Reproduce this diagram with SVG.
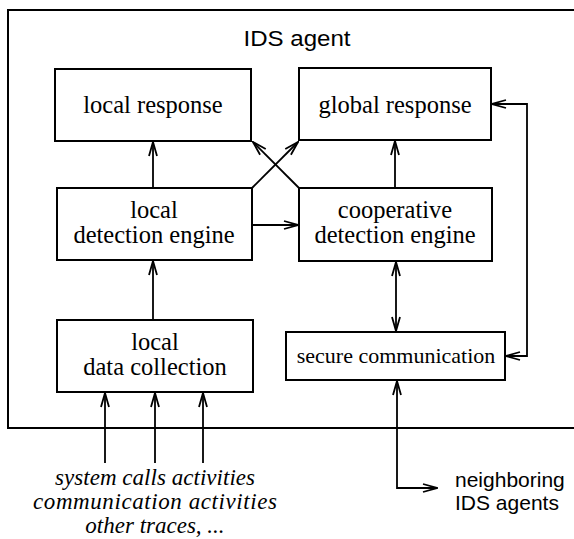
<svg xmlns="http://www.w3.org/2000/svg" width="574" height="539" viewBox="0 0 574 539">
<style>
.box{fill:#fff;stroke:#000;stroke-width:2}
.frame{fill:none;stroke:#000;stroke-width:2}
.t{font-family:"Liberation Serif","Times New Roman",serif;font-size:24.5px;fill:#000;text-anchor:middle}
.it{font-family:"Liberation Serif","Times New Roman",serif;font-size:23px;font-style:italic;fill:#000;text-anchor:middle}
.s{font-family:"Liberation Sans",Arial,sans-serif;font-size:21px;fill:#000}
.c{fill:none;stroke:#000;stroke-width:1.8}
</style>
<defs>
<marker id="ah" viewBox="0 0 16 10" refX="15" refY="5" markerWidth="16" markerHeight="10" markerUnits="userSpaceOnUse" orient="auto-start-reverse">
<path d="M1,1 L15,5 L1,9" fill="none" stroke="#000" stroke-width="1.8"/>
</marker>
</defs>
<g id="ids-agent">
<path class="frame" d="M580,10 H8 V428 H580"/>
<text class="s" x="297" y="46" text-anchor="middle" style="font-size:22px" textLength="107" lengthAdjust="spacingAndGlyphs">IDS agent</text>
</g>
<g id="local-response">
<rect class="box" x="55" y="69" width="196" height="72"/>
<text class="t" x="153" y="113">local response</text>
</g>
<g id="global-response">
<rect class="box" x="299" y="68" width="192" height="72"/>
<text class="t" x="395" y="113">global response</text>
</g>
<g id="local-detection">
<rect class="box" x="57" y="188" width="195" height="72"/>
<text class="t" x="154" y="218">local</text>
<text class="t" x="154" y="243">detection engine</text>
</g>
<g id="cooperative-detection">
<rect class="box" x="299" y="188" width="193" height="73"/>
<text class="t" x="395" y="218">cooperative</text>
<text class="t" x="395" y="243">detection engine</text>
</g>
<g id="local-data">
<rect class="box" x="57" y="320" width="196" height="72"/>
<text class="t" x="155" y="350">local</text>
<text class="t" x="155" y="375">data collection</text>
</g>
<g id="secure-communication">
<rect class="box" x="286" y="332" width="219" height="48"/>
<text class="t" x="396" y="363" style="font-size:22px">secure communication</text>
</g>
<g id="inputs">
<text class="it" x="155" y="485" textLength="200">system calls activities</text>
<text class="it" x="155" y="509" textLength="244">communication activities</text>
<text class="it" x="155" y="533">other traces, ...</text>
</g>
<g id="neighbors">
<text class="s" x="455" y="487">neighboring</text>
<text class="s" x="455" y="510">IDS agents</text>
</g>
<g id="connectors">
<line class="c" x1="153" y1="188" x2="153" y2="142" marker-end="url(#ah)"/>
<line class="c" x1="395" y1="188" x2="395" y2="141" marker-end="url(#ah)"/>
<line class="c" x1="252" y1="188" x2="298" y2="142" marker-end="url(#ah)"/>
<line class="c" x1="299" y1="188" x2="253" y2="142" marker-end="url(#ah)"/>
<line class="c" x1="252" y1="225" x2="298" y2="225" marker-end="url(#ah)"/>
<line class="c" x1="153" y1="320" x2="153" y2="261" marker-end="url(#ah)"/>
<line class="c" x1="396" y1="262" x2="396" y2="331" marker-start="url(#ah)" marker-end="url(#ah)"/>
<path class="c" d="M492,104 H527 V356 H506" marker-start="url(#ah)" marker-end="url(#ah)"/>
<line class="c" x1="105" y1="463" x2="105" y2="393" marker-end="url(#ah)"/>
<line class="c" x1="155" y1="463" x2="155" y2="393" marker-end="url(#ah)"/>
<line class="c" x1="203" y1="463" x2="203" y2="393" marker-end="url(#ah)"/>
<path class="c" d="M437,488 H397 V381" marker-start="url(#ah)" marker-end="url(#ah)"/>
</g>
</svg>
